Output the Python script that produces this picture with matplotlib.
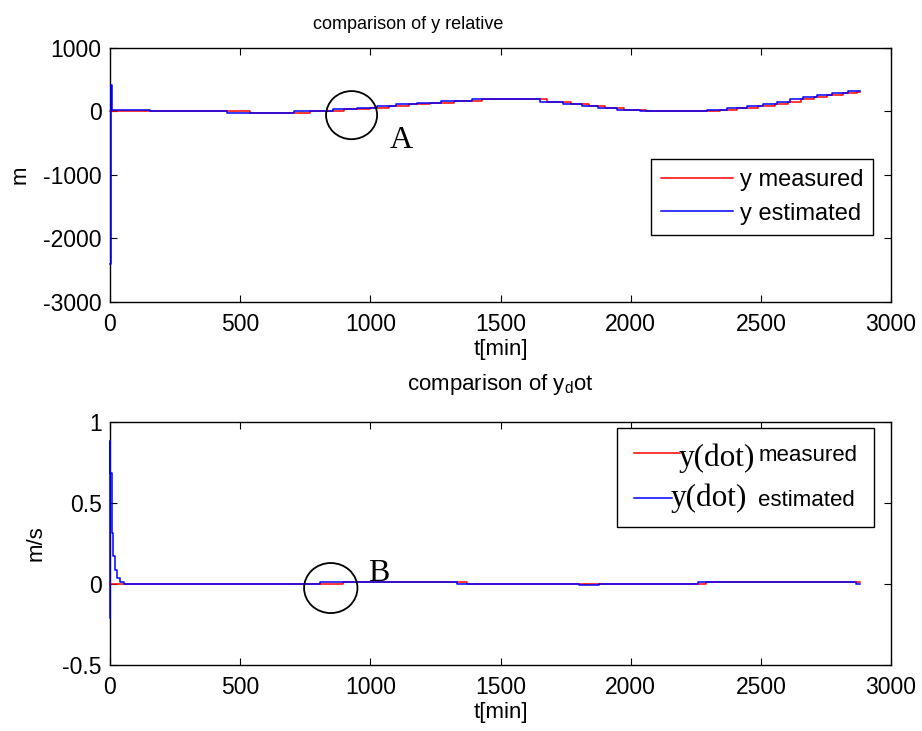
import numpy as np
import matplotlib
matplotlib.use('Agg')
import matplotlib.pyplot as plt
from matplotlib.patches import Ellipse
from matplotlib.font_manager import FontProperties
from matplotlib.legend_handler import HandlerLine2D

plt.rcParams['font.family'] = ['Liberation Sans', 'DejaVu Sans']
plt.rcParams['mathtext.fontset'] = 'custom'
plt.rcParams['mathtext.rm'] = 'Liberation Sans'
plt.rcParams['axes.unicode_minus'] = False

# ---- data ----
# relative y [m], step series
t_y_meas = [0, 538, 769, 900, 1000, 1070, 1150, 1230, 1320, 1430, 1680, 1770, 1840,
            1900, 1975, 2060, 2343, 2410, 2490, 2555, 2605, 2655, 2705, 2755, 2815,
            2870, 2880]
y_meas = [0, -27, 5, 35, 60, 85, 110, 135, 160, 190, 147, 110, 79,
          52, 25, 0, 25, 52, 84, 120, 152, 190, 221, 253, 290,
          300, 300]
t_y_est = [0, 2, 8, 154, 448, 705, 858, 950, 1027, 1100, 1180, 1270, 1390, 1652,
           1741, 1812, 1876, 1946, 2036, 2292, 2369, 2446, 2510, 2561, 2612, 2663,
           2715, 2772, 2836, 2880]
y_est = [-2400, 420, 20, 5, -27, 5, 35, 60, 85, 110, 135, 160, 190, 147,
         110, 79, 52, 25, 0, 25, 52, 84, 120, 152, 190, 221,
         253, 290, 320, 320]

# y dot [m/s], step series
t_yd_meas = [0, 896, 1373, 2288, 2880]
yd_meas = [0.0, 0.012, 0.0, 0.012, 0.012]
t_yd_est = [0, 0.5, 1.5, 6, 13, 20, 28, 38, 54, 808, 1334, 1800, 1877, 2257, 2865, 2880]
yd_est = [-0.21, 0.88, 0.685, 0.317, 0.17, 0.088, 0.04, 0.015, 0.0, 0.012, 0.0,
          -0.006, 0.0, 0.012, 0.0, 0.0]

x_ticks = [0, 500, 1000, 1500, 2000, 2500, 3000]
y_ticks_top = [-3000, -2000, -1000, 0, 1000]
y_ticks_bot = [-0.5, 0, 0.5, 1]


class PartLine(HandlerLine2D):
    # legend line drawn over only part of the handle box
    def __init__(self, frac, **kw):
        super().__init__(**kw)
        self.frac = frac

    def create_artists(self, legend, orig_handle, xdescent, ydescent, width, height,
                       fontsize, trans):
        return super().create_artists(legend, orig_handle, xdescent, ydescent,
                                      width * self.frac, height, fontsize, trans)


fig = plt.figure(figsize=(9.22, 7.31), dpi=100)
ax1 = fig.add_axes([0.1193, 0.5869, 0.8471, 0.3475])
ax2 = fig.add_axes([0.1193, 0.0903, 0.8471, 0.3324])

for ax in (ax1, ax2):
    ax.set_xlim(0, 3000)
    ax.set_xticks(x_ticks)
    ax.tick_params(direction='in', length=5, width=0.8, top=True, right=True,
                   labelsize=16.5, colors='black')
    ax.tick_params(axis='x', pad=8)
    ax.tick_params(axis='y', pad=6)
    for s in ax.spines.values():
        s.set_linewidth(1.0)
        s.set_color('black')
    ax.set_xlabel('t[min]', fontsize=16, labelpad=2)

# top panel
ax1.step(t_y_meas, y_meas, where='post', color='red', lw=1.1, label='y measured',
         zorder=3, clip_on=False)
ax1.step(t_y_est, y_est, where='post', color='blue', lw=1.1, label='y estimated',
         zorder=3, clip_on=False)
ax1.set_ylim(-3000, 1000)
ax1.set_yticks(y_ticks_top)
ax1.set_ylabel('m', fontsize=16, labelpad=9)
ax1.set_title('comparison of y relative', fontsize=13, pad=14, x=0.382)
leg1 = ax1.legend(loc='upper right', bbox_to_anchor=(0.977, 0.563), borderaxespad=0,
                  fontsize=17, handlelength=3.05, handletextpad=0.3, borderpad=0.42,
                  labelspacing=0.5, fancybox=False, framealpha=1, edgecolor='black')
leg1.get_frame().set_linewidth(1.0)
ax1.add_patch(Ellipse((928, -58), 196, 758, fill=False, ec='black', lw=1.3, zorder=4))
ax1.text(1076, -580, 'A', family='Liberation Serif', fontsize=23, va='baseline')

# bottom panel
l_m, = ax2.step(t_yd_meas, yd_meas, where='post', color='red', lw=1.1, zorder=3,
                clip_on=False)
l_e, = ax2.step(t_yd_est, yd_est, where='post', color='blue', lw=1.1, zorder=3,
                clip_on=False)
ax2.set_ylim(-0.5, 1)
ax2.set_yticks(y_ticks_bot)
ax2.set_yticklabels(['-0.5', '0', '0.5', '1'])
ax2.set_ylabel('m/s', fontsize=16, labelpad=11)
ax2.set_title('comparison of y$_\\mathregular{d}$ot', fontsize=16, pad=23)
ax2.add_patch(Ellipse((848, -0.025), 205, 0.309, fill=False, ec='black', lw=1.3, zorder=4))
ax2.text(991, 0.02, 'B', family='Liberation Serif', fontsize=23, va='baseline')

serif = FontProperties(family='Liberation Serif', size=22.5)
leg2 = ax2.legend([l_m, l_e], ['measured', 'estimated'],
                  handler_map={l_m: PartLine(0.37), l_e: PartLine(0.305)},
                  loc='upper right', bbox_to_anchor=(0.978, 0.975), borderaxespad=0,
                  fontsize=16, handlelength=5.6, handletextpad=0.0, borderpad=0.75,
                  labelspacing=1.07, fancybox=False, framealpha=1, edgecolor='black')
leg2.get_frame().set_linewidth(1.0)
txts = leg2.get_texts()
ax2.annotate('y(dot)', xy=(0, 1), xycoords=txts[0], xytext=(-57, 1),
             textcoords='offset points', ha='left', va='top', fontproperties=serif,
             annotation_clip=False, zorder=6)
ax2.annotate('y(dot)', xy=(0, 0), xycoords=txts[1], xytext=(-63, 3.4),
             textcoords='offset points', ha='left', va='baseline', fontproperties=serif,
             annotation_clip=False, zorder=6)

fig.savefig('out.png', dpi=100)
